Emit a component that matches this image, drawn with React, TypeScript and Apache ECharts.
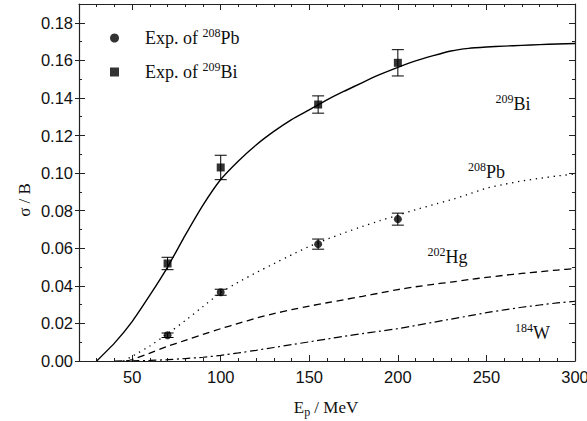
import React, { useEffect, useRef } from "react";
import * as echarts from "echarts";

// ---- axes ----
const X_MIN = 20;
const X_MAX = 300;
const Y_MIN = 0;
const Y_MAX = 0.19;
const xMajorTicks = [50, 100, 150, 200, 250, 300];
const yMajorTicks = [0, 0.02, 0.04, 0.06, 0.08, 0.1, 0.12, 0.14, 0.16, 0.18];

// ---- theoretical curves ----
const biCurveE = [30, 40, 50, 60, 70, 80, 90, 100, 110, 120, 130, 140, 150, 160, 170, 180, 190, 200, 210, 220, 230, 240, 250, 260, 270, 280, 290, 300];
const biCurveS = [0, 0.0095, 0.021, 0.035, 0.05, 0.067, 0.083, 0.0966, 0.1065, 0.115, 0.1222, 0.1285, 0.1337, 0.139, 0.1437, 0.1482, 0.1525, 0.1563, 0.1597, 0.1625, 0.165, 0.1664, 0.1671, 0.1676, 0.168, 0.1684, 0.1687, 0.169];

const pbCurveE = [45, 50, 60, 70, 80, 90, 100, 110, 120, 130, 140, 150, 160, 170, 180, 190, 200, 210, 220, 230, 240, 250, 260, 270, 280, 290, 300];
const pbCurveS = [0, 0.0025, 0.008, 0.0145, 0.0215, 0.029, 0.0364, 0.042, 0.047, 0.0518, 0.0565, 0.061, 0.0648, 0.0683, 0.0716, 0.0747, 0.0776, 0.0805, 0.0832, 0.0858, 0.0888, 0.092, 0.094, 0.0958, 0.0972, 0.0985, 0.0995];

const hgCurveE = [47, 50, 60, 70, 80, 90, 100, 110, 120, 130, 140, 150, 160, 170, 180, 190, 200, 210, 220, 230, 240, 250, 260, 270, 280, 290, 300];
const hgCurveS = [0, 0.0008, 0.0042, 0.0078, 0.011, 0.0142, 0.0172, 0.02, 0.0228, 0.0252, 0.0273, 0.0292, 0.031, 0.0327, 0.0344, 0.0362, 0.038, 0.0395, 0.0408, 0.042, 0.0433, 0.0445, 0.0456, 0.0466, 0.0475, 0.0484, 0.0492];

const wCurveE = [40, 50, 60, 70, 80, 90, 100, 110, 120, 130, 140, 150, 160, 170, 180, 190, 200, 210, 220, 230, 240, 250, 260, 270, 280, 290, 300];
const wCurveS = [0, 0.0001, 0.0003, 0.0007, 0.0013, 0.002, 0.003, 0.0043, 0.0057, 0.0072, 0.0087, 0.0102, 0.0117, 0.0132, 0.0146, 0.0159, 0.0172, 0.0189, 0.0206, 0.0223, 0.024, 0.0257, 0.0272, 0.0286, 0.0298, 0.0309, 0.0318];

// ---- experimental points ----
const pbExpE = [70, 100, 155, 200];
const pbExpS = [0.0137, 0.0366, 0.0622, 0.0755];
const pbExpErr = [0.0012, 0.0016, 0.0027, 0.0032];

const biExpE = [70, 100, 155, 200];
const biExpS = [0.0519, 0.103, 0.1365, 0.1587];
const biExpErr = [0.0033, 0.0065, 0.0046, 0.007];

// ---- curve annotations ----
const annoMass = ["209", "208", "202", "184"];
const annoElem = ["Bi", "Pb", "Hg", "W"];
const annoE = [265, 250, 228, 276];
const annoS = [0.137, 0.1004, 0.0552, 0.0149];

const SERIF = '"Liberation Serif", "Times New Roman", serif';
const SANS = '"Liberation Sans", Arial, sans-serif';
const INK = "#111";

const zip = (a: number[], b: number[]) => a.map((v, i) => [v, b[i]]);
const zip3 = (a: number[], b: number[], c: number[]) => a.map((v, i) => [v, b[i], c[i]]);

const richText = {
  m: { fontFamily: SERIF, fontSize: 18, lineHeight: 22, color: INK, textBorderWidth: 0, opacity: 1 },
  s: { fontFamily: SERIF, fontSize: 12, lineHeight: 10, verticalAlign: "top", color: INK, textBorderWidth: 0, opacity: 1 },
  sp: { width: 21 },
};

function errorBarRender(params: any, api: any) {
  const x = api.value(0);
  const y = api.value(1);
  const e = api.value(2);
  const top = api.coord([x, y + e]);
  const bot = api.coord([x, y - e]);
  const w = 6;
  const st = { stroke: "#000", lineWidth: 1 };
  return {
    type: "group",
    children: [
      { type: "line", shape: { x1: top[0], y1: top[1], x2: bot[0], y2: bot[1] }, style: st },
      { type: "line", shape: { x1: top[0] - w, y1: top[1], x2: top[0] + w, y2: top[1] }, style: st },
      { type: "line", shape: { x1: bot[0] - w, y1: bot[1], x2: bot[0] + w, y2: bot[1] }, style: st },
    ],
  };
}

function hiddenAxis(extra: any) {
  return {
    type: "value",
    splitLine: { show: false },
    axisLine: { show: false, onZero: false },
    axisLabel: { show: false },
    ...extra,
  };
}

export default function App() {
  const ref = useRef<HTMLDivElement>(null);
  useEffect(() => {
    const chart = echarts.init(ref.current!, null, { renderer: "svg" });
    const axisLine = { show: true, onZero: false, lineStyle: { color: "#222", width: 1.2 } };
    const xBase = { min: X_MIN, max: X_MAX };
    const yBase = { min: Y_MIN, max: Y_MAX };
    const tickStyle = { color: "#222", width: 1 };
    const curveLine = (name: string, e: number[], s: number[], type: any, width: number) => ({
      name,
      type: "line",
      data: zip(e, s),
      showSymbol: false,
      smooth: 0.15,
      lineStyle: { color: "#000", width, type },
      silent: true,
      z: 2,
    });
    const option: any = {
      animation: false,
      grid: { left: 79, right: 12, top: 4, bottom: 60, containLabel: false, outerBoundsMode: "none" },
      xAxis: [
        {
          type: "value",
          position: "bottom",
          ...xBase,
          splitLine: { show: false },
          axisLine,
          axisTick: { show: true, inside: true, length: 6, customValues: xMajorTicks, lineStyle: tickStyle },
          axisLabel: {
            show: true,
            customValues: xMajorTicks,
            margin: 7,
            fontSize: 16.5,
            fontFamily: SANS,
            color: INK,
          },
        },
        hiddenAxis({ position: "bottom", ...xBase, interval: 10, axisTick: { show: true, inside: true, length: 3, lineStyle: tickStyle } }),
        {
          type: "value",
          position: "top",
          ...xBase,
          splitLine: { show: false },
          axisLine,
          axisTick: { show: true, inside: true, length: 6, customValues: xMajorTicks, lineStyle: tickStyle },
          axisLabel: { show: false },
        },
        hiddenAxis({ position: "top", ...xBase, interval: 10, axisTick: { show: true, inside: true, length: 3, lineStyle: tickStyle } }),
      ],
      yAxis: [
        {
          type: "value",
          position: "left",
          ...yBase,
          splitLine: { show: false },
          axisLine,
          axisTick: { show: true, inside: false, length: 4, customValues: yMajorTicks, lineStyle: tickStyle },
          axisLabel: {
            show: true,
            customValues: yMajorTicks,
            margin: 6,
            fontSize: 16.5,
            fontFamily: SANS,
            color: INK,
            formatter: (v: number) => v.toFixed(2),
          },
        },
        hiddenAxis({ position: "left", ...yBase, axisTick: { show: true, inside: true, length: 6, customValues: yMajorTicks, lineStyle: tickStyle } }),
        hiddenAxis({ position: "left", ...yBase, interval: 0.01, axisTick: { show: true, inside: true, length: 3, lineStyle: tickStyle } }),
        {
          type: "value",
          position: "right",
          ...yBase,
          splitLine: { show: false },
          axisLine,
          axisTick: { show: true, inside: true, length: 6, customValues: yMajorTicks, lineStyle: tickStyle },
          axisLabel: { show: false },
        },
        hiddenAxis({ position: "right", ...yBase, interval: 0.01, axisTick: { show: true, inside: true, length: 3, lineStyle: tickStyle } }),
      ],
      legend: {
        show: true,
        orient: "vertical",
        left: 110,
        top: 27,
        padding: 0,
        itemWidth: 9,
        itemHeight: 9,
        itemGap: 14,
        selectedMode: false,
        data: [
          { name: "pbExp", icon: "circle" },
          { name: "biExp", icon: "rect" },
        ],
        formatter: (name: string) =>
          name === "pbExp" ? "{sp| }{m|Exp. of }{s|208}{m|Pb}" : "{sp| }{m|Exp. of }{s|209}{m|Bi}",
        textStyle: { rich: richText },
      },
      series: [
        curveLine("biCurve", biCurveE, biCurveS, "solid", 1.4),
        curveLine("pbCurve", pbCurveE, pbCurveS, [1.3, 4.7], 1.3),
        curveLine("hgCurve", hgCurveE, hgCurveS, [7, 4.5], 1.3),
        curveLine("wCurve", wCurveE, wCurveS, [8, 3.5, 2, 3.5], 1.2),
        {
          name: "pbErr",
          type: "custom",
          renderItem: errorBarRender,
          data: zip3(pbExpE, pbExpS, pbExpErr),
          encode: { x: 0, y: 1 },
          silent: true,
          z: 3,
        },
        {
          name: "biErr",
          type: "custom",
          renderItem: errorBarRender,
          data: zip3(biExpE, biExpS, biExpErr),
          encode: { x: 0, y: 1 },
          silent: true,
          z: 3,
        },
        {
          name: "pbExp",
          type: "scatter",
          symbol: "circle",
          symbolSize: 8,
          itemStyle: { color: "#000" },
          data: zip(pbExpE, pbExpS),
          z: 4,
        },
        {
          name: "biExp",
          type: "scatter",
          symbol: "rect",
          symbolSize: 8,
          itemStyle: { color: "#000" },
          data: zip(biExpE, biExpS),
          z: 4,
        },
        {
          name: "annotations",
          type: "scatter",
          symbol: "circle",
          symbolSize: 0.1,
          itemStyle: { color: "#fff", opacity: 1 },
          silent: true,
          data: annoE.map((e, i) => ({ value: [e, annoS[i]], mass: annoMass[i], elem: annoElem[i] })),
          label: {
            show: true,
            position: "inside",
            color: INK,
            textBorderWidth: 0,
            opacity: 1,
            formatter: (p: any) => `{s|${p.data.mass}}{m|${p.data.elem}}`,
            rich: richText,
          },
          z: 5,
        },
      ],
      graphic: [
        {
          type: "text",
          x: 24,
          y: 200,
          rotation: Math.PI / 2,
          style: {
            text: "σ / B",
            font: `17px ${SERIF}`,
            fill: INK,
            align: "center",
            verticalAlign: "middle",
          },
        },
        {
          type: "text",
          x: 326,
          y: 407,
          style: {
            text: "{m|E}{b|p}{m| / MeV}",
            align: "center",
            verticalAlign: "middle",
            fill: INK,
            rich: {
              m: { fontFamily: SERIF, fontSize: 17, lineHeight: 22, fill: INK },
              b: { fontFamily: SERIF, fontSize: 12, lineHeight: 10, verticalAlign: "bottom", fill: INK },
            },
          },
        },
      ],
    };
    chart.setOption(option);
    return () => chart.dispose();
  }, []);
  return (
    <div
      ref={ref}
      style={{ position: "fixed", left: 0, top: 0, width: 587, height: 421, background: "#fff" }}
    />
  );
}
